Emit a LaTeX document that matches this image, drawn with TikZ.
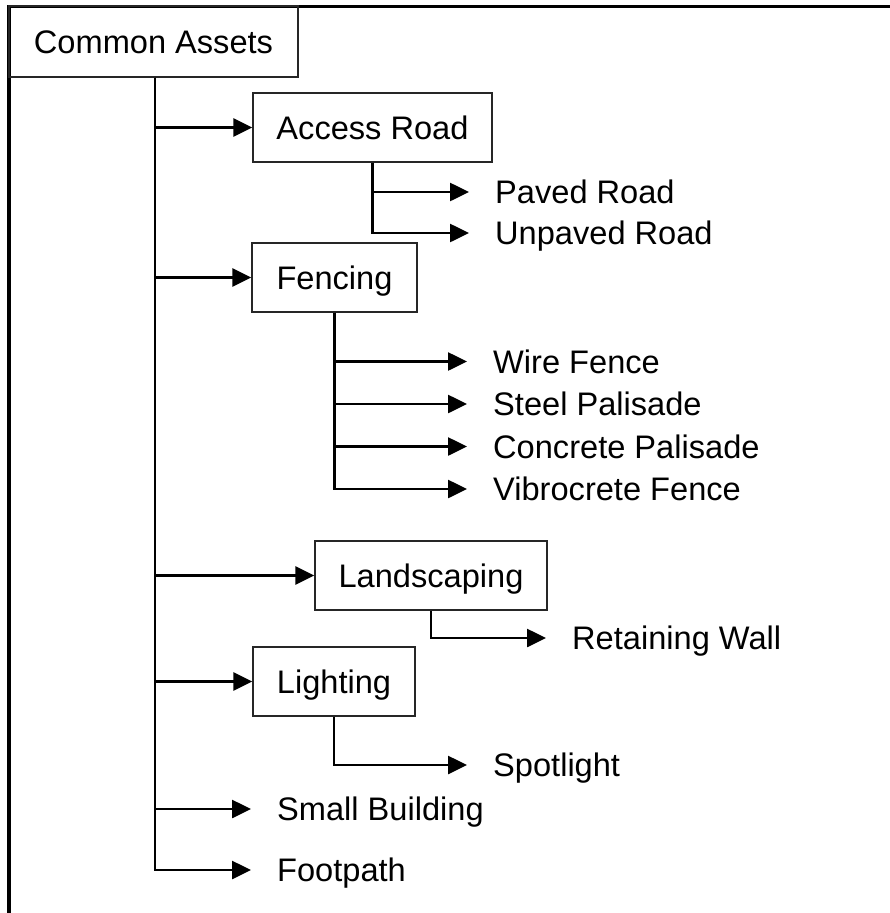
\documentclass[tikz,border=0pt]{standalone}
\usepackage{fontspec}
\setmainfont{Liberation Sans}
\usetikzlibrary{arrows.meta}
\tikzstyle{category}  = [rectangle, draw=black!85, line width=1.4pt, minimum height=69pt,
                          inner sep=0pt, text height=23.3pt, text depth=0pt, align=center]
\tikzstyle{item}      = [anchor=west, inner sep=0pt, text height=23.3pt, text depth=0pt]
\tikzstyle{arrow}     = [line width=2.6pt, -{Triangle[length=19pt,width=18pt]}]
\tikzstyle{itemarrow} = [arrow, shorten >=26pt]

\begin{document}
\begin{tikzpicture}[x=1pt, y=-1pt, font=\fontsize{32.6pt}{39pt}\selectfont]
  \useasboundingbox (0,0) rectangle (890,913);
  \draw[line width=3.4pt] (9,6.5) rectangle (910,935);

  % categories
  \node (common)      [category, minimum width=289pt, minimum height=71pt] at (153.5,41.5) {Common Assets};
  \node (access)      [category, minimum width=239pt] at (372.5,127.5) {Access Road};
  \node (fencing)     [category, minimum width=165pt] at (334.5,277.5) {Fencing};
  \node (landscaping) [category, minimum width=232pt] at (431,575.5)   {Landscaping};
  \node (lighting)    [category, minimum width=162pt] at (334,681.5)   {Lighting};

  % items
  \node (paved)      [item] at (495,192)   {Paved Road};
  \node (unpaved)    [item] at (495,233)   {Unpaved Road};
  \node (wire)       [item] at (493,361.5) {Wire Fence};
  \node (steel)      [item] at (493,404)   {Steel Palisade};
  \node (concrete)   [item] at (493,446.5) {Concrete Palisade};
  \node (vibrocrete) [item] at (493,489)   {Vibrocrete Fence};
  \node (retaining)  [item] at (572,638)   {Retaining Wall};
  \node (spotlight)  [item] at (493,765)   {Spotlight};
  \node (building)   [item] at (277,809)   {Small Building};
  \node (footpath)   [item] at (277,870)   {Footpath};

  \coordinate (trunk) at ([xshift=1.5pt]common.south);

  \draw[arrow]     (trunk) |- (access.west);
  \draw[arrow]     (trunk) |- (fencing.west);
  \draw[arrow]     (trunk) |- (landscaping.west);
  \draw[arrow]     (trunk) |- (lighting.west);
  \draw[itemarrow] (trunk) |- (building.west);
  \draw[itemarrow] (trunk) |- (footpath.west);

  \draw[itemarrow] (access.south) |- (paved.west);
  \draw[itemarrow] (access.south) |- (unpaved.west);

  \draw[itemarrow] (fencing.south) |- (wire.west);
  \draw[itemarrow] (fencing.south) |- (steel.west);
  \draw[itemarrow] (fencing.south) |- (concrete.west);
  \draw[itemarrow] (fencing.south) |- (vibrocrete.west);

  \draw[itemarrow] (landscaping.south) |- (retaining.west);
  \draw[itemarrow] (lighting.south)    |- (spotlight.west);
\end{tikzpicture}
\end{document}
